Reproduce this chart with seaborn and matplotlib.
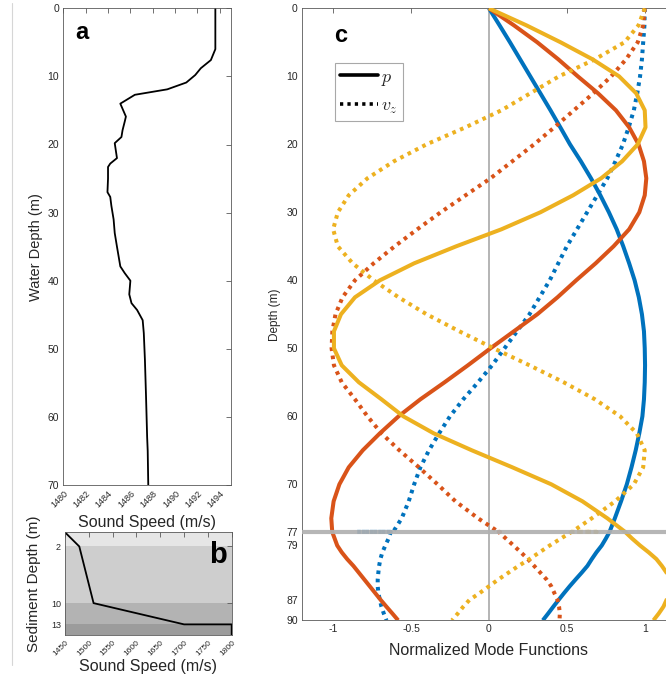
import matplotlib
matplotlib.use("Agg")
import matplotlib.pyplot as plt
from matplotlib.lines import Line2D
import pandas as pd
import seaborn as sns

# ---------------- panel a: water-column sound speed profile ----------------
water_depth = [0, 6, 7.6, 8.8, 9.8, 10.9, 11.9, 12.7, 14.0, 15.9, 16.6, 17.9,
               18.9, 19.8, 22.0, 22.8, 23.3, 25, 27, 27.7, 29, 31, 33, 35,
               37.9, 38.9, 40, 42, 43.3, 44.3, 45.8, 47.7, 51.6, 57, 63, 65, 70]
water_speed = [1493.6, 1493.6, 1493.2, 1492.3, 1491.8, 1491.0, 1489.3, 1486.4,
               1485.1, 1485.6, 1485.5, 1485.3, 1485.2, 1484.6, 1484.8, 1484.2,
               1484.0, 1484.0, 1483.95, 1484.2, 1484.3, 1484.5, 1484.6, 1484.8,
               1485.1, 1485.5, 1486.0, 1485.9, 1486.1, 1486.6, 1487.1, 1487.2,
               1487.3, 1487.4, 1487.5, 1487.55, 1487.6]
water_xticks = [1480, 1482, 1484, 1486, 1488, 1490, 1492, 1494]

# ---------------- panel b: sediment sound speed profile ----------------
sed_depth = [0, 2, 10, 13, 13, 14.5]
sed_speed = [1450, 1480, 1510, 1700, 1800, 1800]
layer_top = [0, 2, 10, 13]
layer_bottom = [2, 10, 13, 14.5]
layer_shade = ["#e6e6e6", "#cecece", "#b3b3b3", "#9c9c9c"]
sed_yticks = [2, 10, 13]
sed_xticks = [1450, 1500, 1550, 1600, 1650, 1700, 1750, 1800]

# ---------------- panel c: normalized mode functions ----------------
z_water = [0, 2.5, 5, 7.5, 10, 12.5, 15, 17.5, 20, 22.5, 25, 27.5, 30, 32.5,
           35, 37.5, 40, 42.5, 45, 47.5, 50, 52.5, 55, 57.5, 60, 62.5, 65,
           67.5, 70, 72.5, 75, 77]
z_sed = [77, 78, 79, 80, 81, 82, 83, 84, 85, 86, 87, 88, 89, 90]
seafloor = 77

p1_water = [0, 0.068, 0.135, 0.20, 0.265, 0.33, 0.395, 0.458, 0.52, 0.59, 0.655,
            0.715, 0.77, 0.82, 0.862, 0.90, 0.935, 0.962, 0.982, 0.995, 1.0,
            1.002, 1.0, 0.995, 0.985, 0.965, 0.942, 0.915, 0.885, 0.848, 0.808, 0.774]
p1_sed = [0.774, 0.75, 0.724, 0.69, 0.66, 0.632, 0.595, 0.556, 0.518, 0.482,
          0.447, 0.413, 0.38, 0.346]
vz1_water = [1.0, 0.998, 0.99, 0.982, 0.97, 0.952, 0.93, 0.897, 0.86, 0.812,
             0.76, 0.695, 0.63, 0.565, 0.50, 0.445, 0.39, 0.325, 0.26, 0.18,
             0.10, 0.02, -0.07, -0.165, -0.25, -0.32, -0.385, -0.44, -0.48,
             -0.515, -0.56, -0.615]
vz1_jump = -0.846
vz1_sed = [-0.63, -0.645, -0.665, -0.684, -0.697, -0.705, -0.71, -0.714,
           -0.714, -0.71, -0.70, -0.69, -0.675, -0.658]

p2_water = [0, 0.16, 0.31, 0.445, 0.57, 0.70, 0.815, 0.90, 0.96, 0.995, 1.01,
            1.0, 0.965, 0.90, 0.80, 0.685, 0.56, 0.44, 0.31, 0.16, 0.01, -0.135,
            -0.285, -0.44, -0.58, -0.70, -0.81, -0.90, -0.96, -0.997, -1.012, -1.006]
p2_sed = [-1.006, -0.99, -0.974, -0.945, -0.91, -0.87, -0.835, -0.80, -0.765,
          -0.73, -0.695, -0.658, -0.62, -0.583]
vz2_water = [1.0, 0.99, 0.955, 0.88, 0.785, 0.67, 0.545, 0.42, 0.29, 0.15, 0.01,
             -0.15, -0.31, -0.46, -0.605, -0.74, -0.86, -0.94, -0.985, -1.005,
             -1.01, -0.995, -0.945, -0.86, -0.78, -0.69, -0.575, -0.45, -0.33,
             -0.215, -0.07, 0.062]
vz2_jump = 0.07
vz2_sed = [0.062, 0.11, 0.158, 0.205, 0.25, 0.29, 0.33, 0.37, 0.40, 0.42, 0.44,
           0.45, 0.455, 0.453]

p3_water = [0, 0.24, 0.46, 0.665, 0.835, 0.945, 1.0, 1.005, 0.955, 0.855, 0.72,
            0.54, 0.33, 0.08, -0.21, -0.48, -0.70, -0.86, -0.95, -0.995, -0.995,
            -0.945, -0.835, -0.69, -0.55, -0.355, -0.11, 0.15, 0.40, 0.60, 0.76, 0.874]
p3_sed = [0.874, 0.92, 0.97, 1.025, 1.075, 1.11, 1.14, 1.16, 1.165, 1.16, 1.14,
          1.12, 1.09, 1.056]
vz3_water = [1.0, 0.96, 0.87, 0.68, 0.45, 0.265, 0.08, -0.15, -0.40, -0.61, -0.78,
             -0.90, -0.97, -1.0, -0.97, -0.875, -0.74, -0.58, -0.40, -0.19, 0.03,
             0.26, 0.48, 0.68, 0.842, 0.949, 1.0, 0.99, 0.93, 0.81, 0.66, 0.532]
vz3_jump = 0.69
vz3_sed = [0.53, 0.46, 0.39, 0.325, 0.26, 0.19, 0.125, 0.06, 0.0, -0.06,
           -0.125, -0.165, -0.20, -0.237]

mode_colors = ["#0072BD", "#D95319", "#EDB120"]
c_yticks = [0, 10, 20, 30, 40, 50, 60, 70, 77, 79, 87, 90]
c_xticks = [-1, -0.5, 0, 0.5, 1]
c_xticklabels = ["-1", "-0.5", "0", "0.5", "1"]

# ---------------- style ----------------
sns.set_style("white")
ink = "#262626"
spine = "#5a5a5a"
plt.rcParams["font.family"] = ["Liberation Sans", "DejaVu Sans"]
plt.rcParams["mathtext.fontset"] = "cm"
plt.rcParams["axes.edgecolor"] = spine
plt.rcParams["axes.linewidth"] = 0.6
plt.rcParams["text.color"] = ink
plt.rcParams["axes.labelcolor"] = ink
plt.rcParams["xtick.color"] = spine
plt.rcParams["ytick.color"] = spine
plt.rcParams["xtick.labelcolor"] = ink
plt.rcParams["ytick.labelcolor"] = ink
plt.rcParams["lines.solid_joinstyle"] = "round"
plt.rcParams["lines.dash_joinstyle"] = "round"

W, H = 666, 678
fig = plt.figure(figsize=(W / 100, H / 100), dpi=100)


def box(px_left, px_top, px_right, px_bottom):
    return [px_left / W, 1 - px_bottom / H, (px_right - px_left) / W,
            (px_bottom - px_top) / H]


def boxed_ticks(ax, size):
    ax.tick_params(direction="in", length=3.5, width=0.6, top=True, right=True,
                   labelsize=size, pad=3)
    for s in ax.spines.values():
        s.set_visible(True)
        s.set_color(spine)
        s.set_linewidth(0.6)


# faint page rule at the left margin
fig.add_artist(Line2D([11.7 / W, 11.7 / W], [1 - 3 / H, 1 - 665 / H],
                      transform=fig.transFigure, color="#d6d6d6", lw=0.8))

# ---- panel a ----
ax_a = fig.add_axes(box(63.3, 8.3, 231, 485))
df_a = pd.DataFrame({"speed": water_speed, "depth": water_depth})
sns.lineplot(data=df_a, x="speed", y="depth", sort=False, estimator=None,
             color="black", lw=1.3, ax=ax_a)
ax_a.set_xlim(1480, 1495)
ax_a.set_ylim(70, 0)
ax_a.set_xticks(water_xticks)
ax_a.set_yticks([0, 10, 20, 30, 40, 50, 60, 70])
boxed_ticks(ax_a, 7.5)
for lab in ax_a.get_xticklabels():
    lab.set_rotation(45)
    lab.set_ha("right")
    lab.set_rotation_mode("anchor")
    lab.set_fontsize(6.5)
ax_a.set_xlabel("Sound Speed (m/s)", fontsize=11.5, labelpad=4)
ax_a.set_ylabel("Water Depth (m)", fontsize=10.5, labelpad=3)
ax_a.text(0.07, 0.95, "a", transform=ax_a.transAxes, fontsize=17,
          fontweight="bold", color="black", va="center", ha="left")

# ---- panel b ----
ax_b = fig.add_axes(box(65, 532.3, 231.7, 635))
for top, bot, shade in zip(layer_top, layer_bottom, layer_shade):
    ax_b.axhspan(top, bot, color=shade, lw=0, zorder=0)
df_b = pd.DataFrame({"speed": sed_speed, "depth": sed_depth})
sns.lineplot(data=df_b, x="speed", y="depth", sort=False, estimator=None,
             color="black", lw=1.3, ax=ax_b)
ax_b.set_xlim(1450, 1800)
ax_b.set_ylim(14.5, 0)
ax_b.set_xticks(sed_xticks)
ax_b.set_yticks(sed_yticks)
boxed_ticks(ax_b, 6.5)
for lab in ax_b.get_xticklabels():
    lab.set_rotation(45)
    lab.set_ha("right")
    lab.set_rotation_mode("anchor")
    lab.set_fontsize(6)
ax_b.set_xlabel("Sound Speed (m/s)", fontsize=11.5, labelpad=1)
ax_b.set_ylabel("Sediment Depth (m)", fontsize=11, labelpad=7)
ax_b.text(0.92, 0.78, "b", transform=ax_b.transAxes, fontsize=21,
          fontweight="bold", color="black", va="center", ha="center")

# ---- panel c ----
ax_c = fig.add_axes(box(302, 8.3, 675.9, 620.3))
ax_c.axvline(0, color="#b4b4b4", lw=1.4, zorder=1)

rows = []
profiles = [
    (0, "p", p1_water, None, p1_sed),
    (0, "vz", vz1_water, vz1_jump, vz1_sed),
    (1, "p", p2_water, None, p2_sed),
    (1, "vz", vz2_water, vz2_jump, vz2_sed),
    (2, "p", p3_water, None, p3_sed),
    (2, "vz", vz3_water, vz3_jump, vz3_sed),
]
for mode, field, vw, jump, vs in profiles:
    depths = list(z_water) + ([seafloor] if jump is not None else []) + list(z_sed)
    vals = list(vw) + ([jump] if jump is not None else []) + list(vs)
    for d, v in zip(depths, vals):
        rows.append({"mode": mode, "field": field, "depth": d, "value": v})
modes = pd.DataFrame(rows)

for (mode, field), grp in modes.groupby(["mode", "field"], sort=False):
    sns.lineplot(data=grp, x="value", y="depth", sort=False, estimator=None,
                 color=mode_colors[mode], lw=2.9, ax=ax_c, zorder=3)
    line = ax_c.lines[-1]
    line.set_solid_joinstyle("round")
    line.set_dash_joinstyle("round")
    if field == "vz":
        line.set_dashes((0.9, 1.15))
        line.set_dash_capstyle("butt")
    else:
        line.set_solid_capstyle("butt")

ax_c.axhline(seafloor, color="#b0b0b0", lw=3.0, alpha=0.92, zorder=6)
ax_c.set_xlim(-1.2, 1.2)
ax_c.set_ylim(90, 0)
ax_c.set_xticks(c_xticks)
ax_c.set_xticklabels(c_xticklabels)
ax_c.set_yticks(c_yticks)
boxed_ticks(ax_c, 7.5)
ax_c.set_xlabel("Normalized Mode Functions", fontsize=11.5, labelpad=6)
ax_c.set_ylabel("Depth (m)", fontsize=8.5, labelpad=4)
ax_c.text(0.085, 0.955, "c", transform=ax_c.transAxes, fontsize=17,
          fontweight="bold", color="black", va="center", ha="left")

handles = [Line2D([], [], color="black", lw=2.6),
           Line2D([], [], color="black", lw=2.6, dashes=(0.9, 1.15))]
leg = ax_c.legend(handles, [r"$p$", r"$v_z$"], loc="upper left",
                  bbox_to_anchor=(0.088, 0.910), borderaxespad=0,
                  fontsize=13, handlelength=2.1, handletextpad=0.15,
                  labelspacing=0.55, borderpad=0.3, fancybox=False,
                  framealpha=1)
leg.get_frame().set_edgecolor("#a8a8a8")
leg.get_frame().set_linewidth(0.8)

fig.savefig("out.png", dpi=100)
